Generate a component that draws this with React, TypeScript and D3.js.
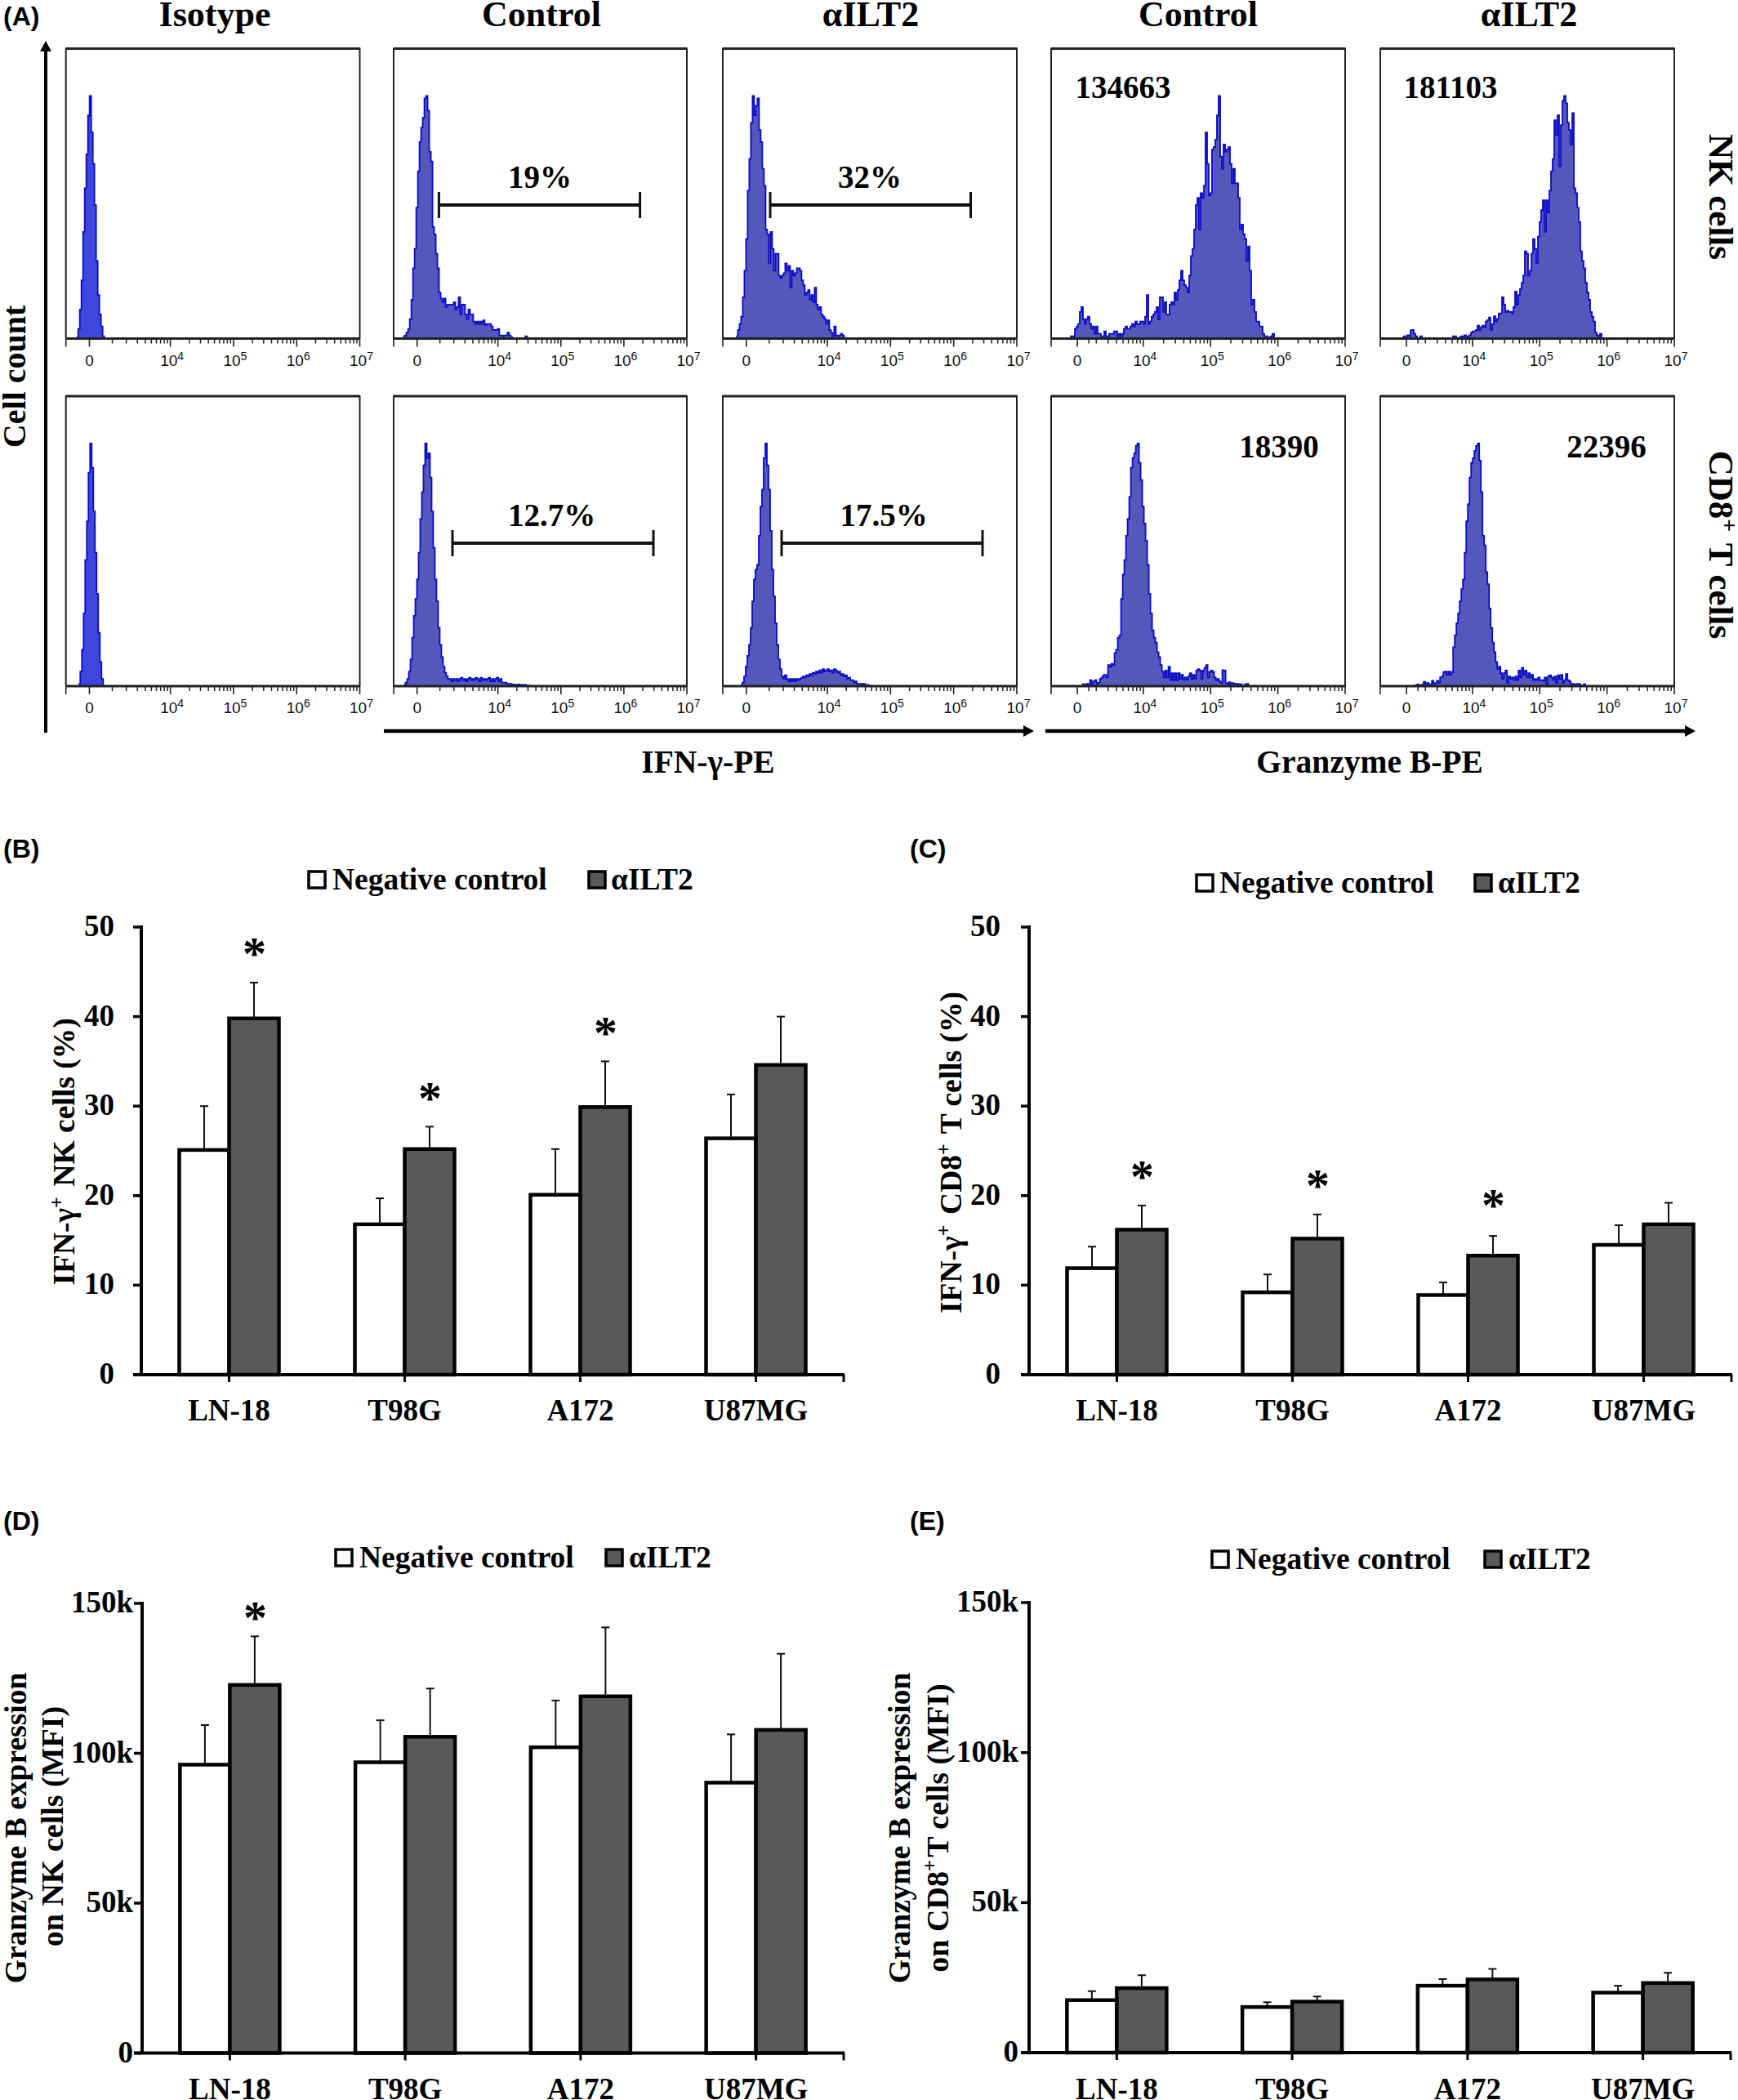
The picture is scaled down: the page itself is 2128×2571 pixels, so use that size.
import React from "react";
import { area, curveStepAfter, line, scaleBand, scaleLinear } from "d3";

// ---- flow histograms: % of peak per 2px channel
const nkIsotype = [0.5, 4, 12, 24, 44, 62, 76, 92, 100, 85, 72, 55, 32, 18, 10, 5, 1];
const nkIfnControl = [1, 1.3, 2.5, 4, 8, 16, 29, 37, 54, 69, 81, 87, 91, 99, 100, 94, 77, 73, 46, 43, 35, 29, 19, 16.5, 15, 16.5, 13, 14, 14, 14, 14, 15, 12, 13, 17, 10, 14, 14, 10, 8, 12, 10, 10, 7, 6, 7, 6, 7, 6, 7.5, 5.6, 6, 6, 6, 5, 3.6, 3.6, 3.6, 4, 1.3, 1.3, 1, 1.3, 1.3, 2.5, 1.3, 0.5, 0, 0, 0, 0, 0, 0, 0, 0, 1, 0.3];
const nkIfnIlt2 = [1, 3.6, 6, 9, 17, 28, 41, 61, 74, 89, 100, 92, 96, 99, 86, 81, 70, 63, 45, 43, 31, 44, 37, 28, 35, 35, 26, 25, 26, 27, 31, 28, 30, 21, 28, 26, 27, 29, 29, 28, 24, 22, 18, 19, 20, 16, 18, 15, 21, 14, 12, 13, 10, 9, 8, 6, 7.5, 3.6, 2.5, 1, 5, 1.3, 1, 1.3, 2, 1.3, 0.3];
const nkGzbControl = [1, 1, 1, 4, 5, 6, 11, 13, 8, 6, 8, 9, 6, 4, 5, 2, 5, 2, 2, 1, 1, 3, 1, 1, 2, 2, 2, 3, 3, 1, 2, 1, 2, 4, 5, 4, 4, 5, 6, 5, 7, 6, 6, 7, 7, 6, 9, 18, 6, 7, 9, 10, 11, 13, 8, 17, 17, 11, 15, 10, 10, 14, 15, 14, 19, 16, 20, 24, 28, 24, 22, 21, 19, 26, 34, 37, 45, 55, 58, 45, 60, 58, 63, 85, 72, 59, 60, 78, 79, 82, 92, 100, 75, 70, 80, 77, 78, 79, 72, 64, 70, 64, 64, 58, 45, 47, 43, 41, 32, 38, 28, 14, 16, 11, 7, 7, 5, 5, 2, 1, 1, 0, 0.5, 1, 2];
const nkGzbIlt2 = [0.5, 1, 1, 1.4, 1, 3.4, 3.6, 2, 1, 0, 0, 1, 0, 0, 0, 0, 0, 0, 0, 0, 0, 0, 0, 0, 0, 0, 0, 0, 0, 0, 0, 1, 1, 0, 0, 0.5, 1, 0.5, 1.4, 1, 1, 1.4, 2.5, 3, 3, 3.6, 5.3, 3.6, 4.7, 5.3, 4.7, 7, 7.6, 8.7, 3.6, 5.9, 9.2, 7, 8.1, 10.4, 10.4, 17, 14, 11, 11.5, 11, 11, 10.4, 13, 19.4, 14, 18, 20.5, 23, 26, 36, 35, 26, 28, 35, 41, 37, 31, 42, 48, 53, 57, 44, 57, 52, 61, 69, 74, 90, 84, 92, 71, 88, 98, 100, 97, 89, 86, 80, 93, 62, 60, 54, 48, 36, 32, 29, 23, 19, 16, 11, 9, 7, 2.5, 1.4, 1, 2];
const cdIsotype = [1, 6, 15, 30, 52, 68, 88, 100, 90, 72, 55, 38, 22, 10, 3];
const cdIfnControl = [0.5, 1.5, 3, 6, 11, 20, 29, 36, 44, 55, 69, 80, 91, 100, 94, 96, 86, 72, 57, 44, 35, 24, 17, 12, 8, 5.5, 4, 3, 3, 2, 3, 2.5, 3, 2, 3, 3.5, 2.5, 3, 2, 3, 3.5, 2.5, 3, 2.5, 3.5, 3, 2, 3.5, 2.5, 3, 2.5, 3, 3.5, 2, 3, 2, 3, 3.5, 2, 3, 1.5, 1.5, 1.5, 1, 1, 1, 0.7, 0.7, 0.5, 0.5, 0.7, 0.5, 0.5, 0.3, 0.5, 0.2, 0.3];
const cdIfnIlt2 = [0.5, 1.5, 4, 8, 12.5, 17, 24, 35, 44, 48, 50, 62, 74, 81, 94, 100, 91, 81, 64, 48, 37, 26, 17, 11, 7, 4, 3, 4.5, 3, 2, 3, 2, 3, 2, 3, 2.5, 3, 3.5, 4, 3.5, 4.5, 4, 5, 4.5, 5.5, 5, 6, 5.5, 6.5, 5.5, 7, 6, 6.5, 7, 6, 6.5, 5.5, 7, 6.5, 5.5, 6, 4.5, 5, 4, 4.5, 3, 3.5, 2.5, 2.5, 1.5, 2, 1, 1, 1, 0.5, 1, 0.5, 0.5, 0.3];
const cdGzbControl = [0.8, 0.8, 0.5, 1, 0.5, 2.5, 0.8, 2, 2.5, 0.8, 1.4, 3, 3.6, 4.5, 4.7, 3.6, 8.7, 8, 9.2, 8.7, 13.7, 15, 20, 21, 36, 46, 52, 62, 69, 78, 90, 94, 96, 99, 100, 92, 85, 74, 67, 60, 50, 38, 30, 23, 20, 18, 14, 12, 8.7, 6, 3.6, 6.4, 3.6, 8, 2.5, 5.3, 2.5, 5.3, 2.5, 5.3, 3, 4.7, 2.7, 3.6, 2.7, 4, 5.3, 3, 4.7, 3, 6.4, 7, 6.4, 3, 6.4, 7.5, 8.7, 3.6, 5.8, 6.4, 5.8, 3.6, 2.5, 3, 2, 1.3, 6.6, 6.4, 1.3, 0.8, 1.6, 0.8, 1.3, 1, 0.8, 1, 0.8, 0.8, 0.2, 0.4, 0.8, 1];
const cdGzbIlt2 = [0.2, 0.4, 0.7, 0.4, 0.4, 0.8, 1.8, 0.8, 1.3, 0.8, 0.8, 2.2, 0.8, 1.3, 2.2, 1.3, 3.6, 4, 5.8, 6, 4.7, 6, 4.7, 5.8, 16, 21, 26, 30, 35, 40, 44, 55, 68, 75, 86, 92, 94, 97, 99, 100, 93, 80, 62, 58, 47, 42, 32, 24, 18, 14, 10, 7, 8, 5.3, 3, 5.3, 6.4, 1.3, 4, 3, 3.6, 2.5, 4, 2.5, 6.4, 3.6, 7.5, 4.7, 6.4, 3.6, 5.3, 3.6, 4.7, 2.5, 3, 2.5, 3.6, 2.5, 2.5, 2.2, 3.6, 0.8, 4, 4.5, 3.6, 2.5, 4, 1.3, 4.5, 3, 4.7, 1.3, 2.5, 5, 2.5, 2, 0.8, 1, 0.4, 0.8, 1, 0.8, 0.2, 0.2, 0.8];

// first channel of each histogram (of 180)
const nkStarts = [6.5, 5.85, 8.2, 11.5, 13.5];
const cdStarts = [7.8, 6.3, 11, 18.8, 20.6];

const columnTitles = ["Isotype", "Control", "αILT2", "Control", "αILT2"];
const decadeLabels = [4, 5, 6, 7];
const minorMultiples = [2, 3, 4, 5, 6, 7, 8, 9];

// ---- bar panels
const cellLines = ["LN-18", "T98G", "A172", "U87MG"];
const seriesNames = ["Negative control", "αILT2"];

const bNeg = [25.1, 16.8, 20.1, 26.4];
const bNegTop = [30, 19.7, 25.2, 31.3];
const bAnti = [39.8, 25.2, 29.9, 34.6];
const bAntiTop = [43.8, 27.7, 35, 40];
const bStars = [47.8, 31.7, 39, null];

const cNeg = [11.9, 9.2, 8.9, 14.5];
const cNegTop = [14.3, 11.2, 10.3, 16.7];
const cAnti = [16.2, 15.2, 13.3, 16.8];
const cAntiTop = [18.9, 17.9, 15.5, 19.2];
const cStars = [22.9, 21.9, 19.7, null];

const dNeg = [96.2, 97, 102, 90.2];
const dNegTop = [109.4, 111, 117.6, 106.3];
const dAnti = [122.8, 105.5, 119, 107.8];
const dAntiTop = [139, 121.6, 142, 133.2];
const dStars = [147.5, null, null, null];

const eNeg = [17.5, 15.2, 22.3, 20];
const eNegTop = [20.5, 16.8, 24.5, 22.3];
const eAnti = [21.5, 17, 24.4, 23.2];
const eAntiTop = [25.8, 18.7, 27.9, 26.6];
const eStars = [null, null, null, null];

const pctTicks = [0, 10, 20, 30, 40, 50];
const mfiTicks = [0, 50, 100, 150];

const SERIF = "'Liberation Serif', serif";
const SANS = "'Liberation Sans', sans-serif";

function Sup({ children, size }: any) {
  return (
    <>
      <tspan dy={-size * 0.36} fontSize={size * 0.65}>{children}</tspan>
      <tspan dy={size * 0.36}>{"\u200a"}</tspan>
    </>
  );
}

function FlowPanel({ left, right, top, base, values, start, kind }: any) {
  // Logicle-like axis in decades; the two stains were acquired with different displays
  const lowEdge = kind === "ifn" ? 2.345 : 2.63;
  const zero = kind === "ifn" ? 2.717 : 3.02;
  const lowTick = kind === "ifn" ? 3.08 : 3.19;
  const x = scaleLinear().domain([lowEdge, 7]).range([left, right]);
  const chan = scaleLinear().domain([0, 180]).range([left, right]);
  const count = scaleLinear().domain([0, 100]).range([base, base - 297]);

  const bins = values.map((v: number, i: number) => ({ c: start + i, v }));
  bins.push({ c: start + values.length, v: 0 });
  const fill = area<any>().x((d) => chan(d.c)).y0(base).y1((d) => count(d.v)).curve(curveStepAfter);
  const outline = line<any>().x((d) => chan(d.c)).y((d) => count(d.v)).curve(curveStepAfter);

  const minors: number[] = [lowTick];
  [3, 4, 5, 6].forEach((d) => minorMultiples.forEach((m) => minors.push(d + Math.log10(m))));

  return (
    <g>
      <path d={fill(bins)!} fill={values.length < 20 ? "#3d47de" : "#5457bb"} />
      <path d={outline(bins)!} fill="none" stroke="#0a0ac8" strokeWidth={1.8} />
      <path d={`M${left},${base}V${top}H${right}V${base}`} fill="none" stroke="#222" strokeWidth={2} />
      <line x1={left} x2={right} y1={top} y2={top} stroke="#222" strokeWidth={3} />
      <line x1={left} x2={right} y1={base} y2={base} stroke="#222" strokeWidth={3} />
      {minors.map((d, i) => (
        <line key={i} x1={x(d)} x2={x(d)} y1={base} y2={base + 6} stroke="#222" strokeWidth={1.5} />
      ))}
      {[lowEdge, zero, 4, 5, 6, 7].map((d) => (
        <line key={d} x1={x(d)} x2={x(d)} y1={base} y2={base + 10} stroke="#222" strokeWidth={1.6} />
      ))}
      <text x={x(zero)} y={base + 33} fontFamily={SANS} fontSize={19} textAnchor="middle" fill="#111">0</text>
      {decadeLabels.map((d) => (
        <text key={d} x={x(d) + 2} y={base + 33} fontFamily={SANS} fontSize={19} textAnchor="middle" fill="#111">
          10<tspan dy={-7} fontSize={14}>{d}</tspan>
        </text>
      ))}
    </g>
  );
}

function Gate({ x1, x2, y, label, labelX }: any) {
  return (
    <g stroke="#111">
      <line x1={x1} x2={x2} y1={y} y2={y} strokeWidth={4} />
      <line x1={x1} x2={x1} y1={y - 16} y2={y + 16} strokeWidth={3} />
      <line x1={x2} x2={x2} y1={y - 16} y2={y + 16} strokeWidth={3} />
      <text x={labelX} y={y - 21} stroke="none" fill="#000" fontFamily={SERIF} fontWeight="bold" fontSize={39} textAnchor="middle">{label}</text>
    </g>
  );
}

function BarPanel({ axisX, endX, zeroY, topY, domainMax, ticks, tickText, tickEnd, neg, negTop, anti, antiTop, stars, labelY, fontSize }: any) {
  const y = scaleLinear().domain([0, domainMax]).range([zeroY, topY]);
  const band = scaleBand<string>().domain(cellLines).range([axisX, endX]);

  return (
    <g>
      {cellLines.map((name: string, i: number) => {
        const mid = band(name)! + band.bandwidth() / 2;
        const inner = scaleBand<string>().domain(seriesNames).range([mid - 61, mid + 61]);
        const rows = [
          { s: seriesNames[0], v: neg[i], t: negTop[i], f: "#fff" },
          { s: seriesNames[1], v: anti[i], t: antiTop[i], f: "#595959" },
        ];
        return (
          <g key={name}>
            {rows.map((r) => {
              const bx = inner(r.s)!;
              const cx = bx + inner.bandwidth() / 2;
              return (
                <g key={r.s}>
                  <line x1={cx} x2={cx} y1={y(r.v)} y2={y(r.t)} stroke="#111" strokeWidth={2} />
                  <line x1={cx - 5} x2={cx + 5} y1={y(r.t)} y2={y(r.t)} stroke="#111" strokeWidth={2} />
                  <rect x={bx} y={y(r.v)} width={inner.bandwidth()} height={y(0) - y(r.v)} fill={r.f} stroke="#000" strokeWidth={4.5} />
                </g>
              );
            })}
            {stars[i] != null && (
              <text x={mid + 31} y={y(stars[i]) + 28} fontFamily={SERIF} fontWeight="bold" fontSize={58} textAnchor="middle" fill="#000">*</text>
            )}
            <text x={mid} y={labelY} fontFamily={SERIF} fontWeight="bold" fontSize={fontSize} textAnchor="middle" fill="#000">{name}</text>
            <line x1={mid} x2={mid} y1={zeroY} y2={zeroY + 9} stroke="#000" strokeWidth={3} />
          </g>
        );
      })}
      <line x1={endX} x2={endX} y1={zeroY} y2={zeroY + 9} stroke="#000" strokeWidth={3} />
      <line x1={axisX - 10} x2={endX + 1} y1={zeroY} y2={zeroY} stroke="#000" strokeWidth={4} />
      <line x1={axisX} x2={axisX} y1={topY - 2} y2={zeroY} stroke="#000" strokeWidth={4} />
      {ticks.map((t: number) => (
        <g key={t}>
          <line x1={axisX - 10} x2={axisX} y1={y(t)} y2={y(t)} stroke="#000" strokeWidth={3.5} />
          <text x={tickEnd} y={y(t) + 11} fontFamily={SERIF} fontWeight="bold" fontSize={37} textAnchor="end" fill="#000">{tickText(t)}</text>
        </g>
      ))}
    </g>
  );
}

function Legend({ x0, x1, x2, x3, y }: any) {
  const box = (x: number, fill: string) => (
    <rect x={x} y={y - 20} width={20} height={20} fill={fill} stroke="#000" strokeWidth={3.5} />
  );
  const st: any = { fontFamily: SERIF, fontWeight: "bold", fontSize: 37.5, fill: "#000" };
  return (
    <g>
      {box(x0, "#fff")}
      <text x={x1} y={y + 2} {...st}>{seriesNames[0]}</text>
      {box(x2, "#595959")}
      <text x={x3} y={y + 2} {...st}>{seriesNames[1]}</text>
    </g>
  );
}

export default function App() {
  const lefts = [80.7, 482, 885, 1287, 1690];
  const rights = [440.5, 841, 1245, 1647, 2050];
  const kinds = ["ifn", "ifn", "ifn", "gzb", "gzb"];
  const titleX = [263, 663, 1066, 1467, 1872];
  const nkRow = [nkIsotype, nkIfnControl, nkIfnIlt2, nkGzbControl, nkGzbIlt2];
  const cdRow = [cdIsotype, cdIfnControl, cdIfnIlt2, cdGzbControl, cdGzbIlt2];

  const serifBold: any = { fontFamily: SERIF, fontWeight: "bold", fill: "#000" };
  const letter: any = { fontFamily: SANS, fontWeight: "bold", fontSize: 32, fill: "#000" };
  const pct = (t: number) => String(t);
  const mfi = (t: number) => (t === 0 ? "0" : `${t}k`);

  return (
    <svg width={2128} height={2571} viewBox="0 0 2128 2571" style={{ position: "absolute", left: 0, top: 0, background: "#fff" }}>
      {/* (A) flow histograms */}
      <text x={4} y={31} {...letter}>(A)</text>
      {columnTitles.map((t, i) => (
        <text key={i} x={titleX[i]} y={32} fontSize={44} textAnchor="middle" {...serifBold}>{t}</text>
      ))}
      {lefts.map((l, i) => (
        <FlowPanel key={`nk${i}`} left={l} right={rights[i]} top={59.5} base={414.5} values={nkRow[i]} start={nkStarts[i]} kind={kinds[i]} />
      ))}
      {lefts.map((l, i) => (
        <FlowPanel key={`cd${i}`} left={l} right={rights[i]} top={485} base={840} values={cdRow[i]} start={cdStarts[i]} kind={kinds[i]} />
      ))}
      <Gate x1={537.4} x2={783.6} y={251} label="19%" labelX={661} />
      <Gate x1={943} x2={1188.5} y={251} label="32%" labelX={1065} />
      <Gate x1={554} x2={800} y={665} label="12.7%" labelX={675.6} />
      <Gate x1={957} x2={1203} y={665} label="17.5%" labelX={1082} />
      <text x={1375} y={120} fontSize={39} textAnchor="middle" {...serifBold}>134663</text>
      <text x={1776} y={120} fontSize={39} textAnchor="middle" {...serifBold}>181103</text>
      <text x={1566} y={560} fontSize={39} textAnchor="middle" {...serifBold}>18390</text>
      <text x={1967} y={560} fontSize={39} textAnchor="middle" {...serifBold}>22396</text>

      {/* axis arrows */}
      <line x1={56} x2={56} y1={60} y2={897} stroke="#000" strokeWidth={4} />
      <path d="M56,50L63,63H49Z" fill="#000" />
      <line x1={470} x2={1256} y1={895} y2={895} stroke="#000" strokeWidth={4.5} />
      <path d="M1266,895L1253,888V902Z" fill="#000" />
      <line x1={1280} x2={2066} y1={895} y2={895} stroke="#000" strokeWidth={4.5} />
      <path d="M2076,895L2063,888V902Z" fill="#000" />
      <text transform="translate(31,461) rotate(-90)" fontSize={40} textAnchor="middle" {...serifBold}>Cell count</text>
      <text x={867} y={946} fontSize={39.5} textAnchor="middle" {...serifBold}>IFN-γ-PE</text>
      <text x={1677} y={946} fontSize={39.5} textAnchor="middle" {...serifBold}>Granzyme B-PE</text>
      <text transform="translate(2093,241) rotate(90)" fontSize={43} textAnchor="middle" {...serifBold}>NK cells</text>
      <text transform="translate(2093,667) rotate(90)" fontSize={43} textAnchor="middle" {...serifBold}>
        CD8<Sup size={43}>+</Sup> T cells
      </text>

      {/* (B) */}
      <text x={4} y={1050} {...letter}>(B)</text>
      <Legend x0={378} x1={407} x2={721} x3={748} y={1087} />
      <BarPanel axisX={173} endX={1033} zeroY={1683} topY={1135} domainMax={50} ticks={pctTicks} tickText={pct} tickEnd={140}
        neg={bNeg} negTop={bNegTop} anti={bAnti} antiTop={bAntiTop} stars={bStars} labelY={1739} fontSize={37} />
      <text transform="translate(91,1410) rotate(-90)" fontSize={37.5} textAnchor="middle" {...serifBold}>
        IFN-γ<Sup size={37.5}>+</Sup> NK cells (%)
      </text>

      {/* (C) */}
      <text x={1114} y={1050} {...letter}>(C)</text>
      <Legend x0={1465} x1={1493} x2={1806} x3={1834} y={1091} />
      <BarPanel axisX={1260} endX={2120} zeroY={1683} topY={1135} domainMax={50} ticks={pctTicks} tickText={pct} tickEnd={1225}
        neg={cNeg} negTop={cNegTop} anti={cAnti} antiTop={cAntiTop} stars={cStars} labelY={1739} fontSize={37} />
      <text transform="translate(1177,1411) rotate(-90)" fontSize={37.5} textAnchor="middle" {...serifBold}>
        IFN-γ<Sup size={37.5}>+</Sup> CD8<Sup size={37.5}>+</Sup> T cells (%)
      </text>

      {/* (D) */}
      <text x={4} y={1873} {...letter}>(D)</text>
      <Legend x0={411} x1={440} x2={742} x3={770} y={1917} />
      <BarPanel axisX={174} endX={1033} zeroY={2513.5} topY={1963} domainMax={150} ticks={mfiTicks} tickText={mfi} tickEnd={163}
        neg={dNeg} negTop={dNegTop} anti={dAnti} antiTop={dAntiTop} stars={dStars} labelY={2570} fontSize={37} />
      <text transform="translate(32,2238) rotate(-90)" fontSize={37.5} textAnchor="middle" {...serifBold}>Granzyme B expression</text>
      <text transform="translate(77,2236) rotate(-90)" fontSize={38} textAnchor="middle" {...serifBold}>on NK cells (MFI)</text>

      {/* (E) */}
      <text x={1114} y={1873} {...letter}>(E)</text>
      <Legend x0={1484} x1={1513} x2={1818} x3={1847} y={1919} />
      <BarPanel axisX={1260} endX={2119} zeroY={2513} topY={1962} domainMax={150} ticks={mfiTicks} tickText={mfi} tickEnd={1247}
        neg={eNeg} negTop={eNegTop} anti={eAnti} antiTop={eAntiTop} stars={eStars} labelY={2570} fontSize={37} />
      <text transform="translate(1114,2238) rotate(-90)" fontSize={37.5} textAnchor="middle" {...serifBold}>Granzyme B expression</text>
      <text transform="translate(1161,2238) rotate(-90)" fontSize={38} textAnchor="middle" {...serifBold}>
        on CD8<Sup size={38}>+</Sup>T cells (MFI)
      </text>
    </svg>
  );
}
